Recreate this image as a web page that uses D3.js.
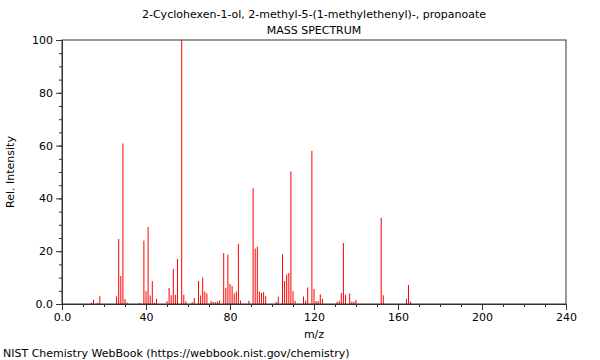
<!DOCTYPE html>
<html>
<head>
<meta charset="utf-8">
<script src="https://cdn.jsdelivr.net/npm/d3@7"></script>
<style>
  body { margin: 0; background: #fff; }
  svg { display: block; font-family: "DejaVu Sans", sans-serif; }
</style>
</head>
<body>
<svg id="chart" width="600" height="360"></svg>
<script>
// peaks
let mzValues = [14, 15, 17, 18, 26, 27, 28, 29, 30, 31, 37, 39, 40, 41, 42, 43, 44, 45,
    50, 51, 52, 53, 54, 55, 57, 58, 59, 62, 63, 65, 66, 67, 68, 69, 71, 72, 73, 74, 75,
    77, 78, 79, 80, 81, 82, 83, 84, 85, 89, 91, 92, 93, 94, 95, 96, 97, 102, 103,
    105, 106, 107, 108, 109, 110, 111, 115, 116, 117, 119, 120, 121, 122, 123, 124,
    131, 132, 133, 134, 135, 137, 138, 139, 140, 152, 153, 164, 165, 166];
let intensities = [0.5, 1.6, 0.5, 3.0, 2.9, 24.6, 10.6, 60.8, 1.9, 0.5, 0.4, 24.0, 4.9, 29.2, 3.2, 8.7, 0.5, 1.9,
    1.1, 6.1, 3.3, 13.3, 3.5, 17.0, 100, 3.5, 1.0, 0.7, 2.3, 8.7, 3.2, 10.0, 4.7, 4.0, 1.1, 0.7, 0.7, 1.0, 1.3,
    19.3, 6.1, 18.7, 7.6, 6.8, 4.0, 4.7, 22.7, 1.3, 1.2, 43.8, 21.0, 21.7, 4.7, 4.2, 4.5, 3.0, 0.8, 2.8,
    18.8, 8.7, 11.2, 11.7, 50.2, 4.9, 1.2, 2.8, 1.3, 6.3, 58.0, 5.7, 1.1, 1.1, 3.7, 1.9,
    0.8, 1.2, 4.2, 23.1, 3.4, 4.0, 0.9, 0.9, 1.6, 32.6, 3.3, 1.9, 7.2, 0.9];

let xTicks = [0, 40, 80, 120, 160, 200, 240];
let yTicks = [0, 20, 40, 60, 80, 100];
let titleLines = ["2-Cyclohexen-1-ol, 2-methyl-5-(1-methylethenyl)-, propanoate", "MASS SPECTRUM"];

let peaks = mzValues.map(function(m, i) { return { mz: m, value: intensities[i] }; });

let svgWidth = 600, svgHeight = 360;
let margin = { top: 40, right: 34, bottom: 56, left: 62 };
let width = svgWidth - margin.left - margin.right;
let height = svgHeight - margin.top - margin.bottom;

let svg = d3.select("#chart");

svg.selectAll("text.title")
    .data(titleLines)
    .enter().append("text")
    .attr("class", "title")
    .attr("x", margin.left + width / 2)
    .attr("y", function(d, i) { return 18 + i * 16; })
    .attr("text-anchor", "middle")
    .attr("fill", "#000")
    .style("font-size", "11px")
    .text(function(d) { return d; });

let g = svg.append("g")
    .attr("transform", "translate(" + margin.left + "," + margin.top + ")");

let x = d3.scaleLinear().domain([0, 240]).range([0, width]);
let y = d3.scaleLinear().domain([0, 100]).range([height, 0]);

// spectrum lines
g.selectAll("line.peak")
    .data(peaks)
    .enter().append("line")
    .attr("class", "peak")
    .attr("x1", function(d) { return x(d.mz); })
    .attr("x2", function(d) { return x(d.mz); })
    .attr("y1", y(0))
    .attr("y2", function(d) { return y(d.value); })
    .attr("stroke", "#ff0000")
    .attr("stroke-width", 1);

// minor ticks
let xMinor = g.append("g")
    .attr("transform", "translate(0," + height + ")")
    .call(d3.axisBottom(x).tickValues(d3.range(0, 241, 10)).tickSize(3).tickFormat(""));
let yMinor = g.append("g")
    .call(d3.axisLeft(y).tickValues(d3.range(0, 101, 5)).tickSize(3).tickFormat(""));

let xAxis = g.append("g")
    .attr("transform", "translate(0," + height + ")")
    .call(d3.axisBottom(x).tickValues(xTicks).tickSize(6).tickPadding(3)
        .tickFormat(function(d) { return d === 0 ? "0.0" : d; }));
let yAxis = g.append("g")
    .call(d3.axisLeft(y).tickValues(yTicks).tickSize(6).tickPadding(3)
        .tickFormat(function(d) { return d === 0 ? "0.0" : d; }));

[xMinor, yMinor, xAxis, yAxis].forEach(function(a) {
    a.selectAll("line").attr("stroke", "#333");
    a.select(".domain").attr("stroke", "#333");
    a.selectAll("text").attr("fill", "#000").style("font-size", "11px")
        .style("font-family", "DejaVu Sans, sans-serif");
});

// frame
g.append("rect")
    .attr("x", 0).attr("y", 0)
    .attr("width", width).attr("height", height)
    .attr("fill", "none")
    .attr("stroke", "#333");

svg.append("text")
    .attr("x", margin.left + width / 2)
    .attr("y", 338)
    .attr("text-anchor", "middle")
    .style("font-size", "11px")
    .text("m/z");

svg.append("text")
    .attr("transform", "translate(14," + (margin.top + height / 2) + ") rotate(-90)")
    .attr("text-anchor", "middle")
    .style("font-size", "11px")
    .text("Rel. Intensity");

svg.append("text")
    .attr("x", 3)
    .attr("y", 357)
    .style("font-size", "11px")
    .text("NIST Chemistry WebBook (https://webbook.nist.gov/chemistry)");
</script>
</body>
</html>
